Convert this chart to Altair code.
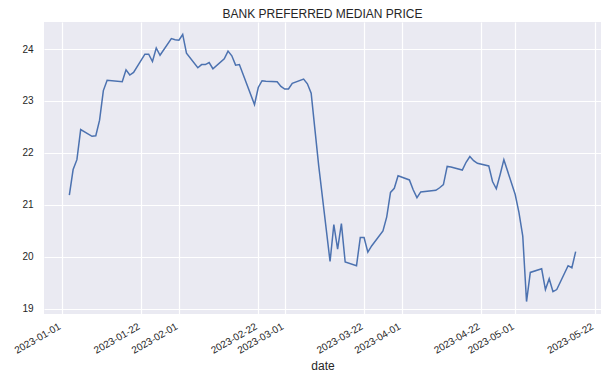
import altair as alt
import pandas as pd

dates = [
    "2023-01-03", "2023-01-04", "2023-01-05", "2023-01-06",
    "2023-01-09", "2023-01-10", "2023-01-11", "2023-01-12", "2023-01-13",
    "2023-01-17", "2023-01-18", "2023-01-19", "2023-01-20",
    "2023-01-23", "2023-01-24", "2023-01-25", "2023-01-26", "2023-01-27",
    "2023-01-30", "2023-01-31", "2023-02-01", "2023-02-02", "2023-02-03",
    "2023-02-06", "2023-02-07", "2023-02-08", "2023-02-09", "2023-02-10",
    "2023-02-13", "2023-02-14", "2023-02-15", "2023-02-16", "2023-02-17",
    "2023-02-21", "2023-02-22", "2023-02-23", "2023-02-24",
    "2023-02-27", "2023-02-28", "2023-03-01", "2023-03-02", "2023-03-03",
    "2023-03-06", "2023-03-07", "2023-03-08", "2023-03-09", "2023-03-10",
    "2023-03-13", "2023-03-14", "2023-03-15", "2023-03-16", "2023-03-17",
    "2023-03-20", "2023-03-21", "2023-03-22", "2023-03-23", "2023-03-24",
    "2023-03-27", "2023-03-28", "2023-03-29", "2023-03-30", "2023-03-31",
    "2023-04-03", "2023-04-04", "2023-04-05", "2023-04-06",
    "2023-04-10", "2023-04-11", "2023-04-12", "2023-04-13", "2023-04-14",
    "2023-04-17", "2023-04-18", "2023-04-19", "2023-04-20", "2023-04-21",
    "2023-04-24", "2023-04-25", "2023-04-26", "2023-04-27", "2023-04-28",
    "2023-05-01", "2023-05-02", "2023-05-03", "2023-05-04", "2023-05-05",
    "2023-05-08", "2023-05-09", "2023-05-10", "2023-05-11", "2023-05-12",
    "2023-05-15", "2023-05-16", "2023-05-17",
]

prices = [
    21.19, 21.68, 21.87, 22.45,
    22.32, 22.33, 22.63, 23.20, 23.40,
    23.37, 23.60, 23.50, 23.55,
    23.90, 23.90, 23.76, 24.02, 23.88,
    24.20, 24.18, 24.17, 24.28, 23.92,
    23.64, 23.70, 23.70, 23.74, 23.62,
    23.81, 23.96, 23.87, 23.69, 23.70,
    22.93, 23.26, 23.39, 23.38,
    23.37, 23.28, 23.23, 23.23, 23.34,
    23.42, 23.33, 23.15, 22.45, 21.75,
    19.91, 20.62, 20.15, 20.64, 19.90,
    19.83, 20.37, 20.37, 20.09, 20.21,
    20.50, 20.77, 21.24, 21.32, 21.56,
    21.48, 21.29, 21.14, 21.25,
    21.28, 21.33, 21.39, 21.74, 21.73,
    21.67, 21.82, 21.93, 21.85, 21.80,
    21.75, 21.45, 21.31, 21.58, 21.87,
    21.20, 20.85, 20.40, 19.14, 19.70,
    19.77, 19.37, 19.58, 19.33, 19.37,
    19.83, 19.79, 20.10,
]

x_ticks = [
    "2023-01-01", "2023-01-22", "2023-02-01", "2023-02-22", "2023-03-01",
    "2023-03-22", "2023-04-01", "2023-04-22", "2023-05-01", "2023-05-22",
]
y_ticks = [19, 20, 21, 22, 23, 24]
x_range = ["2022-12-27 07:00", "2023-05-23 17:00"]


def ms(s):
    return int(pd.Timestamp(s, tz="UTC").value // 10**6)


df = pd.DataFrame({"date": dates, "price": prices})

FONT = "Liberation Sans"
TXT = "#262626"

chart = (
    alt.Chart(df)
    .mark_line(color="#4C72B0", strokeWidth=1.5)
    .encode(
        x=alt.X(
            "date:T",
            scale=alt.Scale(type="utc", domain=[ms(s) for s in x_range]),
            axis=alt.Axis(
                values=[ms(s) for s in x_ticks],
                labelExpr="utcFormat(datum.value, '%Y-%m-%d')",
                labelOverlap=False,
                labelBound=False,
                labelFlush=False,
                labelAngle=-30,
                labelAlign="right",
                labelBaseline="top",
                labelPadding=7,
                labelOffset=-5,
                title="date",
                titleFontSize=12,
                titleFontWeight="normal",
                titlePadding=5,
            ),
        ),
        y=alt.Y(
            "price:Q",
            scale=alt.Scale(domain=[18.9, 24.52], nice=False, zero=False),
            axis=alt.Axis(values=y_ticks, title=None, labelPadding=11),
        ),
    )
    .properties(
        width=557,
        height=292,
        title=alt.TitleParams(
            "BANK PREFERRED MEDIAN PRICE",
            fontSize=12,
            fontWeight="normal",
            font=FONT,
            color=TXT,
            offset=1,
        ),
        autosize=alt.AutoSizeParams(type="none"),
        padding={"left": 36, "top": 14, "right": 5, "bottom": 60},
    )
    .configure_view(fill="#EAEAF2", strokeWidth=0)
    .configure_axis(
        grid=True,
        gridColor="white",
        gridWidth=1.2,
        domain=False,
        ticks=False,
        labelFont=FONT,
        labelFontSize=10,
        labelColor=TXT,
        titleFont=FONT,
        titleColor=TXT,
    )
)

chart.save("out.html", embed_options={"renderer": "svg", "actions": False})
